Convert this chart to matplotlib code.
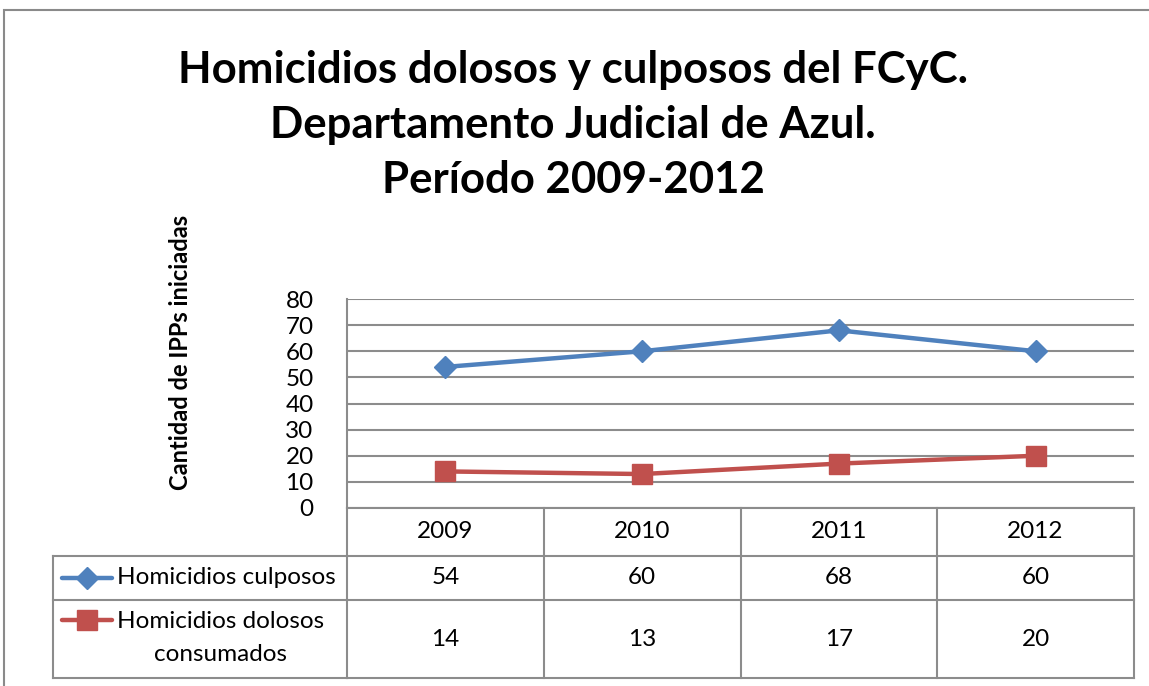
import matplotlib.pyplot as plt
from matplotlib.lines import Line2D
from matplotlib.patches import Rectangle
import matplotlib.transforms as mtransforms

plt.rcParams['font.family'] = ['Lato', 'DejaVu Sans']

# Datos
anios = ['2009', '2010', '2011', '2012']
culposos = [54, 60, 68, 60]
dolosos = [14, 13, 17, 20]
series = ['Homicidios culposos', 'Homicidios dolosos\nconsumados']

AZUL = '#4F81BD'
ROJO = '#C0504D'
GRIS = '#8C8C8C'
FS = 17.5

W, H = 1149, 686
fig = plt.figure(figsize=(W / 100, H / 100), dpi=100)


def fy(py):
    # pixel desde arriba -> fraccion de figura
    return 1 - py / H


def fx(px):
    return px / W


# marco exterior
fig.add_artist(Rectangle((fx(4), fy(700)), 1.2, fy(10) - fy(700),
                         transform=fig.transFigure, fill=False,
                         edgecolor='#8A8A8A', lw=1.5))

ax = fig.add_axes([fx(347), fy(508), fx(1134) - fx(347), fy(299) - fy(508)])
x = list(range(len(anios)))
ax.plot(x, culposos, color=AZUL, lw=3.2, marker='D', ms=11, zorder=3)
ax.plot(x, dolosos, color=ROJO, lw=3.2, marker='s', ms=14, zorder=3)
ax.set_xlim(-0.5, len(anios) - 0.5)
ax.set_ylim(0, 80)
ax.set_yticks(range(0, 81, 10))
ax.set_xticks([])
ax.yaxis.grid(True, color=GRIS, lw=1.5)
ax.set_axisbelow(True)
for s in ax.spines.values():
    s.set_visible(False)
ax.spines['left'].set_visible(True)
ax.spines['left'].set_color(GRIS)
ax.spines['left'].set_linewidth(1.5)
ax.tick_params(axis='y', length=0, labelsize=FS, pad=24)

fig.text(fx(181), fy(352), 'Cantidad de IPPs iniciadas', rotation=90,
         fontsize=17, fontweight='bold', ha='center', va='center')

fig.suptitle('Homicidios dolosos y culposos del FCyC.\n'
             'Departamento Judicial de Azul.\nPeríodo 2009-2012',
             x=fx(573), y=fy(50), fontsize=31.5, fontweight='bold',
             linespacing=1.46, va='top')

# tabla de datos
filas = [508, 556, 600, 678]
bordes = [-0.5 + i for i in range(len(anios) + 1)]
trans = mtransforms.blended_transform_factory(ax.transData, fig.transFigure)


def linea(x0, x1, y0, y1, tr):
    fig.add_artist(Line2D([x0, x1], [y0, y1], transform=tr, color=GRIS, lw=1.5))


for py in filas:
    linea(bordes[0], bordes[-1], fy(py), fy(py), trans)
for b in bordes:
    linea(b, b, fy(filas[0]), fy(filas[-1]), trans)
# columna de leyenda
for py in filas[1:]:
    linea(fx(53), fx(347), fy(py), fy(py), fig.transFigure)
linea(fx(53), fx(53), fy(filas[1]), fy(filas[-1]), fig.transFigure)

for i in x:
    fig.text(i, fy((filas[0] + filas[1]) / 2), anios[i], transform=trans,
             ha='center', va='center', fontsize=FS)
    fig.text(i, fy((filas[1] + filas[2]) / 2), str(culposos[i]),
             transform=trans, ha='center', va='center', fontsize=FS)
    fig.text(i, fy((filas[2] + filas[3]) / 2), str(dolosos[i]),
             transform=trans, ha='center', va='center', fontsize=FS)

# leyendas de la tabla
for color, mk, ms, py in [(AZUL, 'D', 11, 578), (ROJO, 's', 14, 620)]:
    fig.add_artist(Line2D([fx(62), fx(112)], [fy(py), fy(py)],
                          transform=fig.transFigure, color=color, lw=3.2,
                          solid_capstyle='round'))
    fig.add_artist(Line2D([fx(87)], [fy(py)], transform=fig.transFigure,
                          color=color, marker=mk, ms=ms, lw=0))

fig.text(fx(117), fy(578), series[0], fontsize=FS, va='center', ha='left')
fig.text(fx(117), fy(638), series[1], fontsize=FS,
         va='center', ha='left', multialignment='center', linespacing=1.75)

fig.savefig('out.png', dpi=100)
